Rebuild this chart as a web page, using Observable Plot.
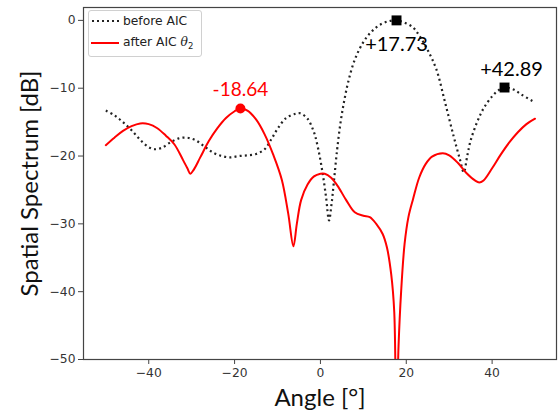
<!DOCTYPE html>
<html>
<head>
<meta charset="utf-8">
<script src="https://cdn.jsdelivr.net/npm/d3@7"></script>
<script src="https://cdn.jsdelivr.net/npm/@observablehq/plot@0.6"></script>
<style>
  html, body { margin: 0; padding: 0; background: #fff; }
  #wrap { position: relative; width: 558px; height: 410px; }
  #legend {
    position: absolute; left: 88px; top: 10px; width: 114px; height: 47px;
    border: 1px solid #d0d0d0; border-radius: 3px; background: rgba(255,255,255,0.85);
    font-family: "DejaVu Sans", sans-serif; font-size: 12.3px; color: #222;
    box-sizing: border-box;
  }
  .row { position: absolute; left: 0; height: 18px; display: flex; align-items: center; white-space: nowrap; }
  .row svg { margin-left: 2px; margin-right: 4px; }
</style>
</head>
<body>
<div id="wrap">
  <div id="chart"></div>
  <div id="legend">
    <div class="row" style="top:1px"><svg width="28" height="6"><line x1="1" y1="3" x2="28" y2="3" stroke="#222" stroke-width="2" stroke-dasharray="2,3"/></svg><span>before AIC</span></div>
    <div class="row" style="top:23px"><svg width="28" height="6"><line x1="0" y1="3" x2="28" y2="3" stroke="red" stroke-width="2"/></svg><span>after AIC <i style="font-family:'DejaVu Serif',serif">θ</i><sub style="font-size:8.5px">2</sub></span></div>
  </div>
</div>
<script>
// before AIC (dotted)
const beforeAngle = [-50,-48,-46,-44,-42,-40,-38.5,-37,-35,-33,-31,-29,-27,-25,-23,-21,-19,-17,-15,-13,-11.5,-10,-8,-6,-4.7,-3,-1.5,-0.5,0.5,1.3,2.0,2.6,3.1,3.9,4.7,5.5,6.5,8,10,12,14,16,17.73,19.5,21.5,23,25,27,29,31,32.5,33.4,34.2,35,36.5,38,40,41.5,43,45,47,49.7];
const beforeDb    = [-13.3,-14.0,-15.0,-16.2,-17.6,-18.7,-19.0,-18.8,-18.0,-17.4,-17.3,-17.7,-18.6,-19.5,-20.0,-20.2,-20.0,-19.9,-19.7,-19.0,-17.6,-16.0,-14.4,-13.8,-13.7,-14.5,-16.5,-19.0,-22.5,-26.0,-29.5,-27.0,-24.0,-19.0,-15.0,-12.0,-9.0,-5.8,-3.2,-1.6,-0.6,-0.1,0,-0.3,-1.0,-2.2,-4.4,-7.2,-12.0,-17.0,-20.5,-22.4,-20.0,-17.7,-15.0,-13.0,-11.2,-10.3,-9.9,-10.2,-11.0,-12.0];
// after AIC theta2 (red)
const afterAngle = [-50,-48,-46,-44,-42,-40,-38,-36,-34,-32,-31,-30.3,-29.5,-28,-26,-24,-22,-20,-18.64,-17,-15,-13,-11,-9,-7.5,-6.3,-5.5,-4.5,-3,-1.5,0,1,2.5,4,6,8,10,11.5,13,14.5,15.5,16.5,17.2,17.7,18.2,18.8,19.6,20.5,21.6,23,24.5,26,28.5,30,32,34,36,37,38,40,42,44,46,48,50];
const afterDb    = [-18.4,-17.3,-16.3,-15.6,-15.2,-15.3,-15.9,-17.0,-18.3,-20.6,-21.8,-22.6,-22.0,-20.2,-17.8,-15.9,-14.4,-13.4,-13.0,-13.3,-14.6,-16.8,-19.8,-23.5,-28.5,-33.3,-30.0,-26.5,-24.2,-23.0,-22.6,-22.6,-23.2,-24.4,-26.5,-28.3,-28.8,-29.0,-30.0,-31.5,-33.5,-37.5,-43.0,-60.0,-48.0,-40.0,-33.0,-29.0,-26.3,-23.2,-21.2,-20.1,-19.6,-19.9,-21.0,-22.5,-23.6,-23.9,-23.6,-21.8,-19.8,-18.0,-16.5,-15.3,-14.5];
// peak annotations
const redPeakAngle = [-18.64], redPeakDb = [-13.0], redPeakLabel = ["-18.64"];
const blackPeakAngle = [17.73, 42.89], blackPeakDb = [0, -9.9], blackPeakLabel = ["+17.73", "+42.89"];
const xTicks = [-40, -20, 0, 20, 40];
const yTicks = [0, -10, -20, -30, -40, -50];

const before = beforeAngle.map((a, i) => ({a, v: beforeDb[i]}));
const after = afterAngle.map((a, i) => ({a, v: afterDb[i]}));
const redPeaks = redPeakAngle.map((a, i) => ({a, v: redPeakDb[i], t: redPeakLabel[i]}));
const blackPeaks = blackPeakAngle.map((a, i) => ({a, v: blackPeakDb[i], t: blackPeakLabel[i]}));

const annFont = "Lato, 'Open Sans', sans-serif";
const chart = Plot.plot({
  width: 558, height: 410,
  marginLeft: 83, marginRight: 2, marginTop: 7, marginBottom: 51,
  style: {fontFamily: "DejaVu Sans, sans-serif", fontSize: "12.3px", color: "#333", background: "#fff"},
  x: {domain: [-55.2, 55], ticks: xTicks},
  y: {domain: [-50, 1.9], ticks: yTicks},
  marks: [
    Plot.axisX({ticks: xTicks, tickSize: 5, tickPadding: 4, label: null, stroke: "#444"}),
    Plot.axisY({ticks: yTicks, tickSize: 5, tickPadding: 3, label: null, stroke: "#444"}),
    Plot.line(before, {x: "a", y: "v", curve: "catmull-rom", stroke: "#222", strokeWidth: 2.2, strokeDasharray: "2,3.2", strokeLinecap: "butt", clip: true}),
    Plot.line(after, {x: "a", y: "v", curve: "catmull-rom", stroke: "red", strokeWidth: 2, clip: true}),
    Plot.dot(redPeaks, {x: "a", y: "v", r: 5, fill: "red", stroke: "none"}),
    Plot.dot(blackPeaks, {x: "a", y: "v", r: 5.6, symbol: "square", fill: "#000", stroke: "none"}),
    Plot.text(redPeaks, {x: "a", y: "v", text: "t", dy: -19, fill: "red", fontSize: 19, fontFamily: annFont}),
    Plot.text(blackPeaks.slice(0, 1), {x: "a", y: "v", text: "t", dy: 24, fill: "#000", fontSize: 20, fontFamily: annFont}),
    Plot.text(blackPeaks.slice(1), {x: "a", y: "v", text: "t", dx: 7, dy: -18, fill: "#000", fontSize: 20, fontFamily: annFont}),
    Plot.frame({stroke: "#444", strokeWidth: 1.2}),
    Plot.text(["Angle [°]"], {frameAnchor: "bottom", textAnchor: "middle", lineAnchor: "middle", dy: 39, fontSize: 24, fontFamily: annFont, fill: "#111"}),
    Plot.text(["Spatial Spectrum [dB]"], {frameAnchor: "left", textAnchor: "middle", lineAnchor: "middle", dx: -53, rotate: -90, fontSize: 24, fontFamily: annFont, fill: "#111"})
  ]
});
document.getElementById("chart").appendChild(chart);
</script>
</body>
</html>
